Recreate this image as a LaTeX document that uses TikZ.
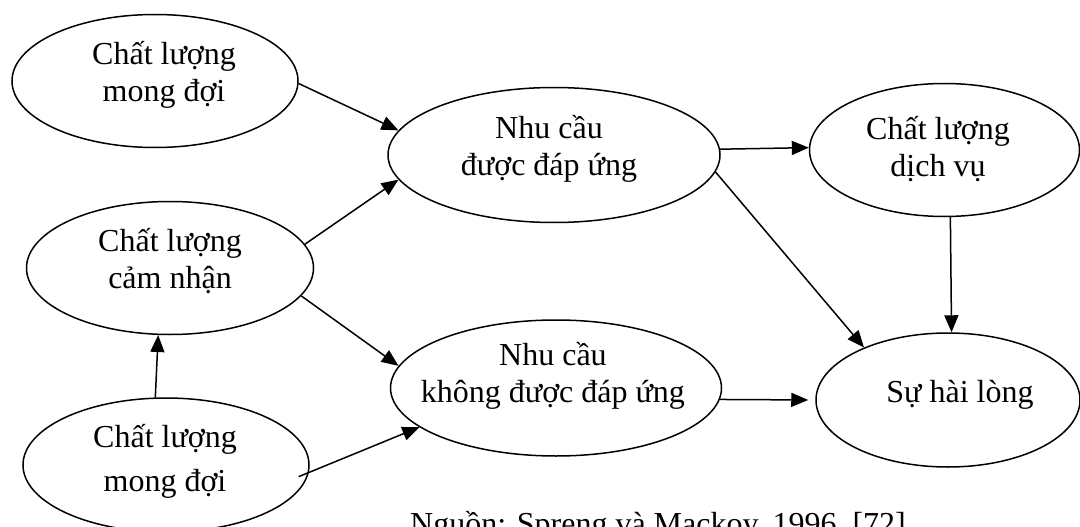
\documentclass[tikz,border=0pt]{standalone}
\usepackage{fontspec}
\setmainfont{Liberation Serif}
\usetikzlibrary{arrows.meta,shapes.geometric}
\newcommand\lnstrut{\rule[-10pt]{0pt}{36pt}}
\begin{document}
\begin{tikzpicture}[x=1pt,y=-1pt,
  ell/.style={draw, ellipse, line width=1.5pt, inner sep=0pt},
  txt/.style={align=center, font=\fontsize{32}{37}\selectfont, inner sep=0pt},
  arr/.style={line width=1.5pt, -{Triangle[length=17pt,width=14pt]}}]
\useasboundingbox (0,0) rectangle (1080,527);

% ellipses
\node[ell, minimum width=286pt, minimum height=133pt] (e1) at (155,81) {};
\node[ell, minimum width=332pt, minimum height=135pt] (e2) at (554,155) {};
\node[ell, minimum width=270pt, minimum height=133pt] (e3) at (944.5,150) {};
\node[ell, minimum width=287pt, minimum height=133pt] (e4) at (170,268) {};
\node[ell, minimum width=286pt, minimum height=134pt] (e5) at (166,465) {};
\node[ell, minimum width=331pt, minimum height=136pt] (e6) at (556,388) {};
\node[ell, minimum width=264pt, minimum height=134pt] (e7) at (948,400) {};

% texts
\node[txt] (t1) at (164,75.5) {\lnstrut Chất lượng\\\lnstrut mong đợi};
\node[txt] (t2) at (549,149) {\lnstrut Nhu cầu\\\lnstrut được đáp ứng};
\node[txt] (t3) at (938,149.5) {\lnstrut Chất lượng\\\lnstrut dịch vụ};
\node[txt] (t4) at (170,262) {\lnstrut Chất lượng\\\lnstrut cảm nhận};
\node[txt, font=\fontsize{32}{44}\selectfont] (t5) at (165,461.5) {\lnstrut Chất lượng\\\lnstrut mong đợi};
\node[txt] (t6) at (553,375.5) {\lnstrut Nhu cầu\\\lnstrut không được đáp ứng};
\node[txt] (t7) at (960,394) {\lnstrut Sự hài lòng};

% source (cut off at the bottom edge, as in the reference)
\node[txt, anchor=base west] (src) at (410,534) {Nguồn: Spreng và Mackoy, 1996, [72]};

% connectors
\draw[arr] (e1.-1) -- (e2.171);
\draw[arr] (e4.10) -- (e2.189);
\draw[arr] (e2.2) -- (e3.179);
\draw[arr] (e2.-6) -- (e7.148);
\draw[arr] (e3.-85) -- (e7.87);
\draw[arr] (e4.-12) -- (e6.172);
\draw[arr, shorten <=-11pt] (e5.-3) -- (e6.-164);
\draw[arr] (e5.99) -- (e4.260);
\draw[arr, shorten >=7pt] (e6.-4) -- (e7.180);
\end{tikzpicture}
\end{document}
